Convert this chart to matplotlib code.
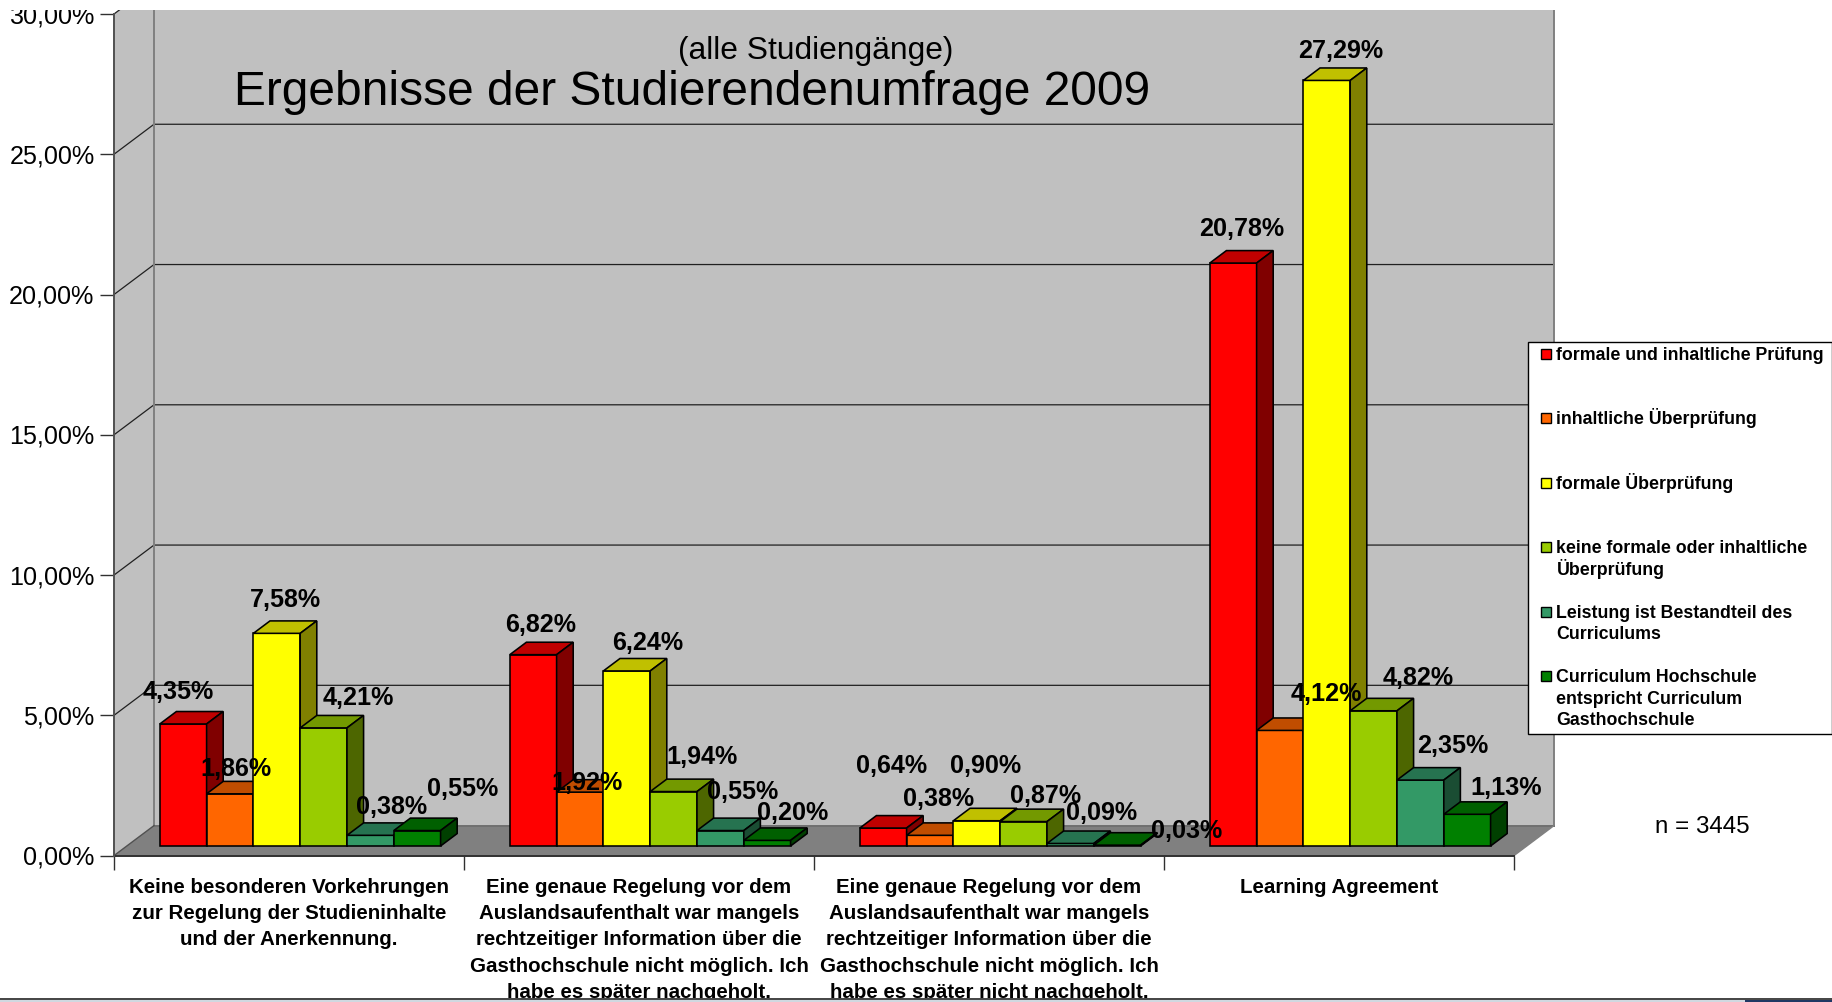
import matplotlib
matplotlib.use("Agg")
import matplotlib.pyplot as plt
from matplotlib.patches import Polygon, Rectangle
from matplotlib.transforms import ScaledTranslation

W, H = 1833, 1003
plt.rcParams['font.family'] = ['Liberation Sans', 'DejaVu Sans']

SERIES = ["formale und inhaltliche Prüfung", "inhaltliche Überprüfung", "formale Überprüfung",
          "keine formale oder inhaltliche\nÜberprüfung", "Leistung ist Bestandteil des\nCurriculums",
          "Curriculum Hochschule\nentspricht Curriculum\nGasthochschule"]
CATEGORIES = ["Keine besonderen Vorkehrungen\nzur Regelung der Studieninhalte\nund der Anerkennung.",
              "Eine genaue Regelung vor dem\nAuslandsaufenthalt war mangels\nrechtzeitiger Information über die\nGasthochschule nicht möglich. Ich\nhabe es später nachgeholt.",
              "Eine genaue Regelung vor dem\nAuslandsaufenthalt war mangels\nrechtzeitiger Information über die\nGasthochschule nicht möglich. Ich\nhabe es später nicht nachgeholt.",
              "Learning Agreement"]
s_pruefung = [4.35, 6.82, 0.64, 20.78]
s_inhalt = [1.86, 1.92, 0.38, 4.12]
s_formal = [7.58, 6.24, 0.90, 27.29]
s_keine = [4.21, 1.94, 0.87, 4.82]
s_leistung = [0.38, 0.55, 0.09, 2.35]
s_curriculum = [0.55, 0.20, 0.03, 1.13]
VALUES = [s_pruefung, s_inhalt, s_formal, s_keine, s_leistung, s_curriculum]
YTICKS = [0, 5, 10, 15, 20, 25, 30]

# (front, top, side) shades per series
COLORS = [("#FF0000", "#C00000", "#800000"), ("#FF6600", "#C04D00", "#803300"),
          ("#FFFF00", "#C0C000", "#808000"), ("#99CC00", "#739900", "#4D6600"),
          ("#339966", "#267350", "#1A4D33"), ("#008000", "#006000", "#004000")]
# label offsets from the bar-top centre, pixels [series][category]
LABEL_OFFSETS = [[(-5, 33), (7, 31), (8, 63), (8, 35)],
                 [(6, 26), (7, 10), (9, 37), (46, 37)],
                 [(9, 34), (21, 29), (9, 56), (14, 30)],
                 [(35, 31), (28, 36), (22, 27), (45, 34)],
                 [(21, 29), (22, 40), (31, 31), (32, 35)],
                 [(45, 43), (25, 28), (69, 15), (39, 27)]]

L, R, Y0, Y30 = 114, 1514, 856.6, 15
fig = plt.figure(figsize=(W / 100, H / 100), dpi=100, facecolor="white")
ax = fig.add_axes([L / W, 1 - Y0 / H, (R - L) / W, (Y0 - Y30) / H])
ax.set_xlim(0, 4)
ax.set_ylim(0, 30)
ax.patch.set_visible(False)
for k in ("top", "right", "bottom"):
    ax.spines[k].set_visible(False)
ax.spines["left"].set_color("#505050")
ax.spines["left"].set_linewidth(1.4)

DX, DY = 40 / 350, 30 / 28.05     # full depth in data units
D0, D1 = 0.32, 0.735              # bar front / back depth
GAP, BW = 0.0943, 0.1337


def pr(x, y, d):
    return (x + d * DX, y + d * DY)


def poly(pts, fc, ec="none", lw=0, z=1):
    ax.add_patch(Polygon(pts, closed=True, facecolor=fc, edgecolor=ec, linewidth=lw,
                         joinstyle="miter", clip_on=False, zorder=z))


# walls and floor
poly([pr(0, 0, 1), pr(4, 0, 1), pr(4, 30, 1), pr(0, 30, 1)], "#C0C0C0", z=1)
poly([pr(0, 0, 0), pr(0, 0, 1), pr(0, 30, 1), pr(0, 30, 0)], "#C0C0C0", z=1)
poly([pr(0, 0, 0), pr(4, 0, 0), pr(4, 0, 1), pr(0, 0, 1)], "#808080", z=1.1)
for xs, ys in [((0, 0), (0, 30)), ((4, 4), (0, 30))]:
    ax.plot([pr(x, y, 1)[0] for x, y in zip(xs, ys)], [pr(x, y, 1)[1] for x, y in zip(xs, ys)],
            color="#808080", lw=1.4, clip_on=False, zorder=1.2)
ax.plot([pr(0, 0, 1)[0], pr(4, 0, 1)[0]], [pr(0, 0, 1)[1]] * 2, color="#707070", lw=1.4, clip_on=False, zorder=1.2)
ax.plot([0, pr(0, 0, 1)[0]], [0, pr(0, 0, 1)[1]], color="#505050", lw=1, clip_on=False, zorder=1.2)
ax.plot([4, pr(4, 0, 1)[0]], [0, pr(4, 0, 1)[1]], color="#808080", lw=1, clip_on=False, zorder=1.2)
ax.plot([0, 4], [0, 0], color="#303030", lw=1.4, clip_on=False, zorder=1.3)
for t in YTICKS[1:]:
    a, b, c = pr(0, t, 0), pr(0, t, 1), pr(4, t, 1)
    ax.plot([a[0], b[0], c[0]], [a[1], b[1], c[1]], color="#202020", lw=0.9, clip_on=False, zorder=1.15)

# bars: painter's order, left to right
for g in range(len(CATEGORIES)):
    for s, vals in enumerate(VALUES):
        v = vals[g]
        x0, x1 = g + GAP + s * BW, g + GAP + (s + 1) * BW
        f, t, sd = COLORS[s]
        kw = dict(ec="black", lw=1.15, z=2 + g + s * 0.1)
        poly([pr(x0, 0, D0), pr(x1, 0, D0), pr(x1, v, D0), pr(x0, v, D0)], f, **kw)
        poly([pr(x0, v, D0), pr(x1, v, D0), pr(x1, v, D1), pr(x0, v, D1)], t, **kw)
        poly([pr(x1, 0, D0), pr(x1, 0, D1), pr(x1, v, D1), pr(x1, v, D0)], sd, **kw)

# data labels
for g in range(len(CATEGORIES)):
    for s, vals in enumerate(VALUES):
        v = vals[g]
        xc = g + GAP + (s + 0.5) * BW
        ax.annotate(f"{v:.2f}".replace(".", ",") + "%", xy=pr(xc, v, D0),
                    xytext=LABEL_OFFSETS[s][g], textcoords="offset pixels",
                    ha="center", va="center", fontsize=18.1, fontweight="bold",
                    color="black", zorder=20, annotation_clip=False)

# axes
ax.set_yticks(YTICKS, [f"{t:.2f}".replace(".", ",") + "%" for t in YTICKS], fontsize=18.1)
ax.tick_params(axis="y", length=10, width=1, color="#303030", pad=4)
for lab in ax.get_yticklabels():
    lab.set_transform(lab.get_transform() + ScaledTranslation(0, 1.0 / 72, fig.dpi_scale_trans))
ax.set_xticks(range(5), [""] * 5)
ax.tick_params(axis="x", length=10, width=1, color="#303030")
ax.spines["left"].set_zorder(5)
for g, c in enumerate(CATEGORIES):
    ax.annotate(c, xy=(g + 0.5, 0), xytext=(0, -(887 - Y0) + 9), textcoords="offset pixels",
                ha="center", va="top", fontsize=14.75, fontweight="bold", linespacing=1.48,
                annotation_clip=False, zorder=3)


def px(x, y):
    return x / W, 1 - y / H


# titles
fig.text(*px(234, 92.5), "Ergebnisse der Studierendenumfrage 2009", fontsize=34.5, va="center", ha="left", zorder=6)
fig.text(*px(816, 51), "(alle Studiengänge)", fontsize=22.9, va="center", ha="center", zorder=6)
fig.text(*px(1702, 827), "n = 3445", fontsize=17.4, va="center", ha="center", zorder=6)

# legend
fig.add_artist(Rectangle(px(1528, 735), 304.5 / W, (735 - 342.7) / H, transform=fig.transFigure,
                         facecolor="white", edgecolor="black", linewidth=1, zorder=7))
for i, (name, col) in enumerate(zip(SERIES, COLORS)):
    y = 355 + i * 64.4
    fig.add_artist(Rectangle(px(1541, y + 5), 10 / W, 10 / H, transform=fig.transFigure,
                             facecolor=col[0], edgecolor="black", linewidth=1, zorder=8))
    for j, line in enumerate(name.split("\n")):
        fig.text(*px(1556.5, y + 5 + j * 21.5), line, fontsize=12.8, fontweight="bold",
                 va="baseline", ha="left", zorder=8)

# image edges: chart is cropped at the top, window frame at the bottom
fig.add_artist(Rectangle((0, 1 - 11 / H), 1, 11 / H, transform=fig.transFigure,
                         facecolor="white", edgecolor="none", zorder=9))
fig.add_artist(Rectangle((0, 0), 1, 4.5 / H, transform=fig.transFigure,
                         facecolor="#D0D8E0", edgecolor="none", zorder=9))
fig.add_artist(Rectangle((1745 / W, 0), (W - 1745) / W, 2.5 / H, transform=fig.transFigure,
                         facecolor="#1F3864", edgecolor="none", zorder=9))
fig.add_artist(Rectangle((0, 2.3 / H), 1, 2.2 / H, transform=fig.transFigure,
                         facecolor="#484848", edgecolor="none", zorder=10))
fig.savefig("out.png", dpi=100)
